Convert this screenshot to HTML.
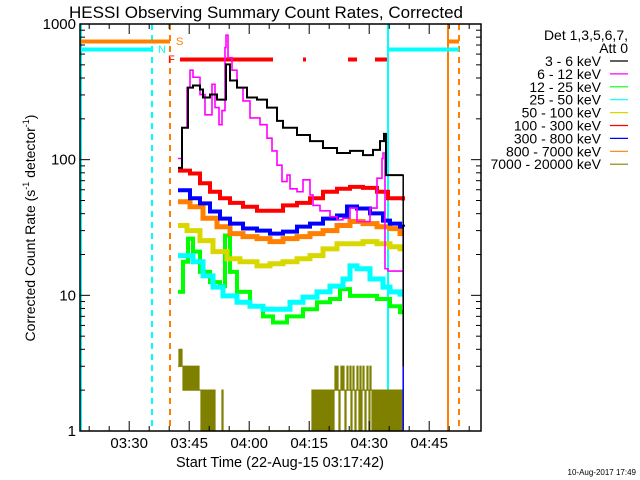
<!DOCTYPE html>
<html><head><meta charset="utf-8"><style>
html,body{margin:0;padding:0;background:#fff;}
svg{display:block;font-family:"Liberation Sans",sans-serif;}
</style></head><body>
<svg id="chart" width="640" height="480" viewBox="0 0 640 480">
<text x="266" y="18" font-size="17" text-anchor="middle">HESSI Observing Summary Count Rates, Corrected</text>
<text transform="translate(35,228) rotate(-90)" font-size="14" text-anchor="middle">Corrected Count Rate (s<tspan font-size="9" dy="-6">-1</tspan><tspan dy="6"> detector</tspan><tspan font-size="9" dy="-6">-1</tspan><tspan dy="6">)</tspan></text>
<text x="280" y="467" font-size="14.5" text-anchor="middle">Start Time (22-Aug-15 03:17:42)</text>
<text x="636" y="475" font-size="8" text-anchor="end">10-Aug-2017 17:49</text>
<g id="marks"></g>
<g id="axes"></g>
<g id="legend" font-size="14"></g>
</svg>
<script>
// ---- data ----
const yTickValues = [1, 10, 100, 1000];
const yTickLabels = ["1", "10", "100", "1000"];
const xTickLabels = ["03:30", "03:45", "04:00", "04:15", "04:30", "04:45"];
const xTickMinutes = [12.3, 27.3, 42.3, 57.3, 72.3, 87.3]; // minutes after 03:17:42
// times are minutes after start
const tBlack = [24.5,25.5,27,28.25,30,30.75,32.5,34.25,35.5,36.5,37.5,39.25,41.75,44.25,46.75,49.25,50.75,54.25,57.5,60.75,64.25,67.5,70.75,73.25,75,76,76.5,80.75];
const vBlack = [87,172,340,352,329,287,302,277,277,504,383,340,287,277,242,193,172,152,137,122,112,116,108,118,137,155,77,77];
const tBlackEnd = [80.75,80.8];
const vBlackEnd = [77,3];
const tMag = [24.5,25.5,26.75,27.5,28.25,30,31.25,33,33.75,34.75,35.5,36.25,36.5,37,38,39.25,40.75,42.5,45,46.75,48,49.25,50.5,51.75,52.5,54.25,55.75,57.5,58.25,60,62.5,64.25,65.75,67.5,69.25,70.75,72.5,74.25,75.5,75.75,76.25,77,80.75];
const vMag = [102,172,340,457,405,302,214,359,242,181,230,671,828,565,457,340,271,203,181,144,116,91,69,77,61,58,71,55,46,42,38,36,37,44,35,35,44,73,102,112,15.7,15.1,15.1];
const tRed = [24.5,27.5,30,32.5,35,37.5,40.75,44.25,47.5,50.75,54.25,57.5,60.75,64.25,67.5,70.75,74.25,76.25,77,80.75];
const vRed = [83,79,67,58,52,48,45,42,42,46,48,52,58,61,63,62,58,58,52,50];
const tBlue = [24.5,27.5,30,32.5,35,37.5,40.75,44.25,47.5,50.75,54.25,57.5,60.75,64.25,66.75,69.25,72.5,75.75,77.5,80,80.75];
const vBlue = [59.5,51.9,47.6,41.5,36.8,33.8,31.1,30,28.5,29.5,32.1,33.8,36.8,38.8,45.2,43.7,40.2,35.5,33.8,32.1,32];
const tBlueEnd = [80.75,80.8];
const vBlueEnd = [32,1];
const tOrange = [24.5,27.5,30.75,34.25,37.5,40.75,44.25,47.5,50.75,54.25,57.5,60.75,64.25,67.5,70.75,74.25,77.5,80,80.75];
const vOrange = [49,45,37,32,28.5,27.1,26.2,24.9,26.2,27.1,28.5,30,32.7,35,33.8,32,31,28.5,28.5];
const tYellow = [24.5,26.75,30,33.25,36.75,40,44.25,47.5,50.75,54.25,57.5,60.75,64.25,67.5,70.75,74.25,77.5,80,80.75];
const vYellow = [32.7,30,25.3,21,18.6,17.7,16.5,17.1,17.7,18.6,19.6,22,24,24,24.9,24,22.8,22,22];
const tCyan = [24.5,25.75,28.25,30.75,33.25,35.75,39.25,42.5,45.75,49.25,52.5,55.75,59.25,62.5,65.75,67.5,69.25,72.5,75.75,77.5,80,80.75];
const vCyan = [19.6,19.6,17.7,13.9,11.5,9.9,8.9,8.3,7.9,7.9,8.9,9.7,10.6,11.7,13.2,16.5,15.7,13.2,11.5,10.6,10.2,10.2];
const tGreen = [24.5,25.75,27,28.25,30,32.5,35,36.25,37.5,39.25,42.5,45.75,48.25,51.75,55.75,59.25,62.5,65,67.5,70.75,74.25,77.5,80,80.75];
const vGreen = [10.6,17.7,26.2,21,14.9,12.5,11.7,27.6,14.9,10.6,8.3,7.0,6.3,7.0,7.9,8.9,9.4,11.1,9.9,9.9,9.4,8.3,7.5,7.5];
const olive = "34343" + "2323232323232" + "3232" + "2121212121212121" + "111111" + "2" + "1".repeat(89) +
  "2121212121212121212121" + "2323212323212322312321232131232123213" + "212121212121212121212121212121212";
const oliveStart = 24.5, oliveStep = 0.25;
const legendLabels = ["3 - 6 keV","6 - 12 keV","12 - 25 keV","25 - 50 keV","50 - 100 keV","100 - 300 keV","300 - 800 keV","800 - 7000 keV","7000 - 20000 keV"];
const legendColors = ["#000000","#ff00ff","#00ff00","#00ffff","#d8d800","#ff0000","#0000ff","#ff8000","#808000"];

// ---- axes functions ----
const X0 = 80, X1 = 481, Y0 = 24, Y1 = 431, PXMIN = 4;
const xs = t => X0 + t * PXMIN;
const ys = v => Y1 - Math.log10(v) / 3 * (Y1 - Y0);
const NS = "http://www.w3.org/2000/svg";
function mk(tag, attrs, parent) {
  const e = document.createElementNS(NS, tag);
  for (const k in attrs) e.setAttribute(k, attrs[k]);
  parent.appendChild(e);
  return e;
}
const marks = document.getElementById("marks");
const axes = document.getElementById("axes");
const legend = document.getElementById("legend");

function vline(x, color, dash, name) {
  const l = mk("line", {x1:x, x2:x, y1:Y0, y2:Y1, stroke:color, "stroke-width":2, "stroke-dasharray":dash || "none"}, marks);
  
  
}
function hbar(xa, xb, y, color, name) {
  const r = mk("rect", {x:xa, y:y-1.5, width:xb-xa, height:4, fill:color}, marks);
  
  
}
vline(81, "#00ffff", null, "night-line-left");
vline(152, "#00ffff", "6,5", "night-dashed-line");
vline(170, "#ff8000", "6,5", "saa-dashed-line");
vline(388, "#00ffff", null, "night-line-right");
vline(448, "#ff8000", null, "saa-line-right");
vline(459, "#ff8000", "6,5", "saa-dashed-line-right");
hbar(80, 170, 41, "#ff8000", "saa-bar");
hbar(448, 459, 41, "#ff8000", "saa-bar-right");
hbar(80, 152, 49, "#00ffff", "night-bar");
hbar(388, 459, 49, "#00ffff", "night-bar-right");
hbar(180, 273, 59, "#ff0000", "flare-bar-1");
hbar(303, 306, 59, "#ff0000", "flare-bar-2");
hbar(348, 357, 59, "#ff0000", "flare-bar-3");
hbar(375, 387, 59, "#ff0000", "flare-bar-4");
[["S",176,45,"#ff8000","saa-label"],["N",158,53,"#00ffff","night-label"],["F",168,63,"#ff0000","flare-label"]].forEach(a=>{
  const t = mk("text", {x:a[1], y:a[2], fill:a[3], "font-size":11}, marks);
  t.textContent = a[0];
  
  
});

// olive step bars
{
  let d = "";
  for (let i = 0; i < olive.length; i++) {
    const v = +olive[i];
    const x = xs(oliveStart + i * oliveStep);
    d += (i ? "L" : "M") + x + "," + ys(v) + "L" + (x + 1) + "," + ys(v);
  }
  const p = mk("path", {d:d, fill:"none", stroke:"#808000", "stroke-width":1.2}, marks);
  
  
}
function series(ts, vs, color, w, name) {
  let d = "";
  for (let i = 0; i < ts.length; i++) {
    const x = xs(ts[i]), y = ys(vs[i]);
    if (i === 0) d += "M" + x + "," + y;
    else d += "H" + x + "V" + y;
  }
  const p = mk("path", {d:d, fill:"none", stroke:color, "stroke-width":w, "stroke-linejoin":"miter"}, marks);
  
  
}
series(tGreen, vGreen, "#00ff00", 4, "series-12-25-kev");
series(tCyan, vCyan, "#00ffff", 5, "series-25-50-kev");
series(tYellow, vYellow, "#d8d800", 5, "series-50-100-kev");
series(tOrange, vOrange, "#ff8000", 5, "series-800-7000-kev");
series(tBlue, vBlue, "#0000ff", 4, "series-300-800-kev");
series(tBlueEnd, vBlueEnd, "#0000ff", 1.5, "series-300-800-kev-end");
series(tRed, vRed, "#ff0000", 4, "series-100-300-kev");
series(tMag, vMag, "#ff00ff", 1.6, "series-6-12-kev");
series(tBlack, vBlack, "#000000", 2, "series-3-6-kev");
series(tBlackEnd, vBlackEnd, "#000000", 1.5, "series-3-6-kev-end");

// axes frame
{
  const f = mk("rect", {x:X0, y:Y0, width:X1-X0, height:Y1-Y0, fill:"none", stroke:"#000", "stroke-width":1.5}, axes);
  
  
}
yTickValues.forEach((v, i) => {
  const y = ys(v);
  mk("line", {x1:X0, x2:X0+10, y1:y, y2:y, stroke:"#000"}, axes);
  mk("line", {x1:X1, x2:X1-10, y1:y, y2:y, stroke:"#000"}, axes);
  const t = mk("text", {x:76, y:y+5, "font-size":15, "text-anchor":"end"}, axes);
  t.textContent = yTickLabels[i];
  
  
  if (i < yTickValues.length - 1) for (let m = 2; m <= 9; m++) {
    const ym = ys(v * m);
    mk("line", {x1:X0, x2:X0+5, y1:ym, y2:ym, stroke:"#000"}, axes);
    mk("line", {x1:X1, x2:X1-5, y1:ym, y2:ym, stroke:"#000"}, axes);
  }
});
for (let t = 2.3; t <= 100; t += 5) {
  const x = xs(t);
  const major = Math.abs(((t - 12.3) / 15) - Math.round((t - 12.3) / 15)) < 0.01;
  const L = major ? 10 : 5;
  mk("line", {x1:x, x2:x, y1:Y1, y2:Y1-L, stroke:"#000"}, axes);
  mk("line", {x1:x, x2:x, y1:Y0, y2:Y0+L, stroke:"#000"}, axes);
}
xTickMinutes.forEach((m, i) => {
  const t = mk("text", {x:xs(m), y:448, "font-size":15, "text-anchor":"middle"}, axes);
  t.textContent = xTickLabels[i];
  
  
});
{
  const a = mk("text", {x:628, y:40, "text-anchor":"end"}, legend);
  a.textContent = "Det 1,3,5,6,7,";
  
  
  const b = mk("text", {x:628, y:53, "text-anchor":"end"}, legend);
  b.textContent = "Att 0";
  
  
}
legendLabels.forEach((lab, i) => {
  const y = 61 + i * 12.9;
  const g = mk("g", {}, legend);
  
  
  const t = mk("text", {x:601, y:y+5, "text-anchor":"end"}, g);
  t.textContent = lab;
  mk("line", {x1:610, x2:628, y1:y, y2:y, stroke:legendColors[i], "stroke-width":1.2}, g);
});
</script>
</body></html>
